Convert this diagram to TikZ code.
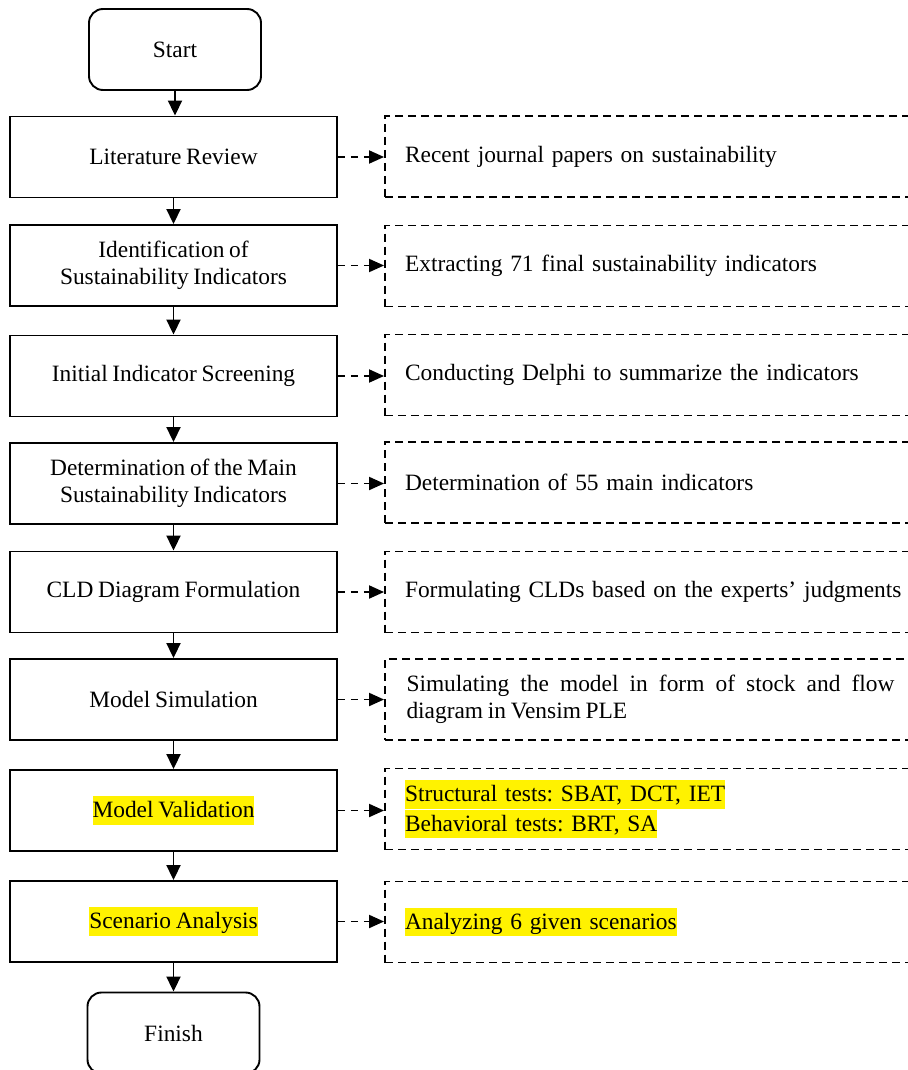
\documentclass[tikz,border=0pt]{standalone}
\usepackage{fontspec}
\setmainfont{Liberation Serif}[WordSpace=0.8]
\usetikzlibrary{arrows.meta}
\frenchspacing
% yellow text marker, one line at a time
\newcommand\hlmark[1]{{\setlength{\fboxsep}{0pt}\colorbox{yellow}{\rule[-0.28em]{0pt}{1.2em}#1}}}
\begin{document}
\hyphenpenalty=10000\relax
\exhyphenpenalty=10000\relax
\begin{tikzpicture}[x=1pt,y=-1pt,
  font=\fontsize{23.4}{27.5}\selectfont,
  stepbox/.style={draw, line width=1.9pt, minimum width=327pt, minimum height=81pt,
    align=center, inner sep=0pt},
  endbox/.style={stepbox, rounded corners=14pt, minimum width=172pt},
  notebox/.style={draw, line width=1.9pt, dash pattern=on 8pt off 5pt,
    minimum height=81pt, text width=520pt, inner xsep=20pt, inner ysep=0pt, align=left},
  flow/.style={line width=1.9pt, -{Triangle[length=15pt,width=14pt]}},
  side/.style={line width=1.9pt, dash pattern=on 7pt off 6pt,
    -{Triangle[length=15pt,width=13pt]}}]
\useasboundingbox (0,0) rectangle (907,1070);

% main chain
\node[endbox]  (start) at (175,49.5)   {Start};
\node[stepbox] (lit)   at (173.5,157)  {Literature Review};
\node[stepbox] (ident) at (173.5,265.5){Identification of\\Sustainability Indicators};
\node[stepbox] (scr)   at (173.5,376)  {Initial Indicator Screening};
\node[stepbox] (main)  at (173.5,483.5){Determination of the Main\\Sustainability Indicators};
\node[stepbox] (cld)   at (173.5,592)  {CLD Diagram Formulation};
\node[stepbox] (sim)   at (173.5,699.5){Model Simulation};
\node[stepbox] (val)   at (173.5,810.5){\hlmark{Model Validation}};
\node[stepbox] (scen)  at (173.5,921.5){\hlmark{Scenario Analysis}};
\node[endbox]  (fin)   at (173.5,1033) {Finish};

% notes beside each step (their right sides run off the page)
\node[notebox] (n1) at (665,156.5) {Recent journal papers on sustainability};
\node[notebox] (n2) at (665,266)   {Extracting 71 final sustainability indicators};
\node[notebox] (n3) at (665,375)   {Conducting Delphi to summarize the indicators};
\node[notebox] (n4) at (665,482.5) {Determination of 55 main indicators};
\node[notebox] (n5) at (665,592)   {Formulating CLDs based on the experts’ judgments};
\node[notebox, text width=488pt, inner xsep=21.5pt, align=justify] (n6) at (650.5,699.5)
  {Simulating the model in form of stock and flow \linebreak diagram in Vensim PLE};
\node[notebox] (n7) at (665,809)
  {\hlmark{Structural tests: SBAT, DCT, IET}\\\hlmark{Behavioral tests: BRT, SA}};
\node[notebox] (n8) at (665,922)   {\hlmark{Analyzing 6 given scenarios}};

% vertical flow
\draw[flow] (start.south) -- (start.south |- lit.north);
\draw[flow] (lit)   -- (ident);
\draw[flow] (ident) -- (scr);
\draw[flow] (scr)   -- (main);
\draw[flow] (main)  -- (cld);
\draw[flow] (cld)   -- (sim);
\draw[flow] (sim)   -- (val);
\draw[flow] (val)   -- (scen);
\draw[flow] (scen.south) -- (scen.south |- fin.north);

% side links
\draw[side] (lit.east)   -- (lit.east -| n1.west);
\draw[side] (ident.east) -- (ident.east -| n2.west);
\draw[side] (scr.east)   -- (scr.east -| n3.west);
\draw[side] (main.east)  -- (main.east -| n4.west);
\draw[side] (cld.east)   -- (cld.east -| n5.west);
\draw[side] (sim.east)   -- (sim.east -| n6.west);
\draw[side] (val.east)   -- (val.east -| n7.west);
\draw[side] (scen.east)  -- (scen.east -| n8.west);
\end{tikzpicture}
\end{document}
